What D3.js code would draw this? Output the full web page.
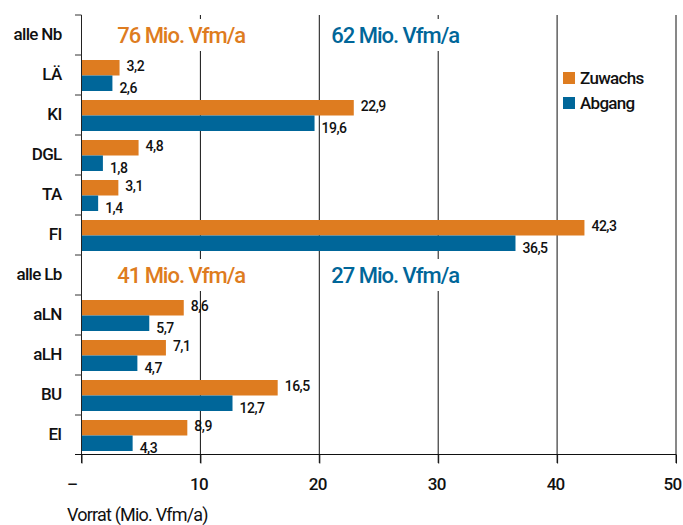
<!DOCTYPE html>
<html>
<head>
<meta charset="utf-8">
<script src="https://cdn.jsdelivr.net/npm/d3@7"></script>
<style>
  body { margin: 0; background: #fff; }
  svg text { font-family: Roboto, "Liberation Sans", sans-serif; }
</style>
</head>
<body>
<div id="chart"></div>
<script>
// Data
const categories = ['alle Nb', 'LÄ', 'KI', 'DGL', 'TA', 'FI', 'alle Lb', 'aLN', 'aLH', 'BU', 'EI'];
const zuwachs = [null, 3.2, 22.9, 4.8, 3.1, 42.3, null, 8.6, 7.1, 16.5, 8.9];
const abgang = [null, 2.6, 19.6, 1.8, 1.4, 36.5, null, 5.7, 4.7, 12.7, 4.3];
const totalRows = ['alle Nb', 'alle Lb'];
const totalZuwachs = ['76 Mio. Vfm/a', '41 Mio. Vfm/a'];
const totalAbgang = ['62 Mio. Vfm/a', '27 Mio. Vfm/a'];
const xTicks = [0, 10, 20, 30, 40, 50];
const seriesNames = ['Zuwachs', 'Abgang'];

const ORANGE = '#de7c20';
const BLUE = '#006699';
const W = 683, H = 525;

const svg = d3.select('#chart').append('svg')
  .attr('width', W)
  .attr('height', H);

const x = d3.scaleLinear().domain([0, 50]).range([81.5, 676]);
const y = d3.scaleBand().domain(categories).range([15, 455]);
const inner = d3.scaleBand().domain(seriesNames).range([5, 36]);
const color = d3.scaleOrdinal().domain(seriesNames).range([ORANGE, BLUE]);
const axisY = 454.5;

const fmt = v => d3.format('.1f')(v).replace('.', ',');

// Grid lines (extend below axis as ticks)
svg.append('g').selectAll('line')
  .data(xTicks.filter(d => d > 0)).enter().append('line')
  .attr('x1', d => x(d)).attr('x2', d => x(d))
  .attr('y1', 15).attr('y2', 463)
  .attr('stroke', '#111').attr('stroke-width', 1);

// Bars
const rows = categories.map((c, i) => ({ cat: c, Zuwachs: zuwachs[i], Abgang: abgang[i] }));
const barG = svg.append('g');
seriesNames.forEach(s => {
  const data = rows.filter(r => r[s] != null);
  barG.selectAll('.bar-' + s)
    .data(data).enter().append('rect')
    .attr('x', x(0))
    .attr('y', d => y(d.cat) + inner(s))
    .attr('width', d => x(d[s]) - x(0))
    .attr('height', inner.bandwidth())
    .attr('fill', color(s));

  barG.selectAll('.lbl-' + s)
    .data(data).enter().append('text')
    .attr('x', d => x(d[s]) + 7)
    .attr('y', d => y(d.cat) + inner(s) + inner.bandwidth() / 2 + (s === 'Zuwachs' ? -2 : 5))
    .attr('dy', '0.36em')
    .style('font-size', '14px')
    .style('font-weight', 500)
    .style('letter-spacing', '-0.5px')
    .style('fill', '#111')
    .text(d => fmt(d[s]));
});

// Total rows: text with white background
totalRows.forEach((c, i) => {
  const cy = y(c) + y.bandwidth() / 2;
  [[totalZuwachs[i], 3, ORANGE], [totalAbgang[i], 21, BLUE]].forEach(([t, v, col]) => {
    const g = svg.append('g');
    const rect = g.append('rect').attr('fill', '#fff');
    const txt = g.append('text')
      .attr('x', x(v))
      .attr('y', cy)
      .attr('dy', '0.36em')
      .style('font-size', '22px')
      .style('font-weight', 500)
      .style('letter-spacing', '-1px')
      .style('fill', col)
      .text(t);
    const bb = txt.node().getBBox();
    rect.attr('x', bb.x - 10).attr('y', cy - 16)
      .attr('width', bb.width + 20).attr('height', 32);
  });
});

// Y axis: line, boundary ticks, labels
svg.append('line')
  .attr('x1', x(0)).attr('x2', x(0))
  .attr('y1', 15).attr('y2', 463)
  .attr('stroke', '#222');
svg.append('g').selectAll('line')
  .data(categories).enter().append('line')
  .attr('x1', 75).attr('x2', x(0))
  .attr('y1', d => y(d)).attr('y2', d => y(d))
  .attr('stroke', '#333');

const yAxis = svg.append('g')
  .attr('transform', `translate(${x(0)},0)`)
  .call(d3.axisLeft(y).tickSize(0).tickPadding(20));
yAxis.select('.domain').remove();
yAxis.selectAll('text')
  .style('font-family', 'Roboto, sans-serif')
  .style('font-size', '17px')
  .style('font-weight', 500)
  .style('letter-spacing', '-0.7px')
  .style('fill', '#111');

// X axis
const xAxis = svg.append('g')
  .attr('transform', `translate(0,${axisY})`)
  .call(d3.axisBottom(x).tickValues(xTicks).tickSize(9)
    .tickFormat(d => d === 0 ? '–' : d));
xAxis.select('.domain').remove();
xAxis.selectAll('line').attr('stroke', '#111');
xAxis.selectAll('text')
  .attr('y', 23)
  .attr('dx', d => d === 0 ? -10 : (d === 50 ? -4 : -2))
  .style('font-family', 'Roboto, sans-serif')
  .style('font-size', '17px')
  .style('font-weight', 500)
  .style('letter-spacing', '-0.7px')
  .style('fill', '#111');
svg.append('line')
  .attr('x1', 75).attr('x2', 676)
  .attr('y1', axisY).attr('y2', axisY)
  .attr('stroke', '#111');

// Axis title
svg.append('text')
  .attr('x', 67)
  .attr('y', 521)
  .style('font-size', '18px')
  .style('letter-spacing', '-0.8px')
  .style('fill', '#111')
  .text('Vorrat (Mio. Vfm/a)');

// Legend
const legend = svg.append('g').attr('transform', 'translate(563,72)');
seriesNames.forEach((s, i) => {
  legend.append('rect')
    .attr('x', 0).attr('y', i * 25)
    .attr('width', 12).attr('height', 12)
    .attr('fill', color(s));
  legend.append('text')
    .attr('x', 17).attr('y', i * 25 + 6)
    .attr('dy', '0.36em')
    .style('font-size', '17px')
    .style('font-weight', 500)
    .style('letter-spacing', '-0.7px')
    .style('fill', '#111')
    .text(s);
});
</script>
</body>
</html>
